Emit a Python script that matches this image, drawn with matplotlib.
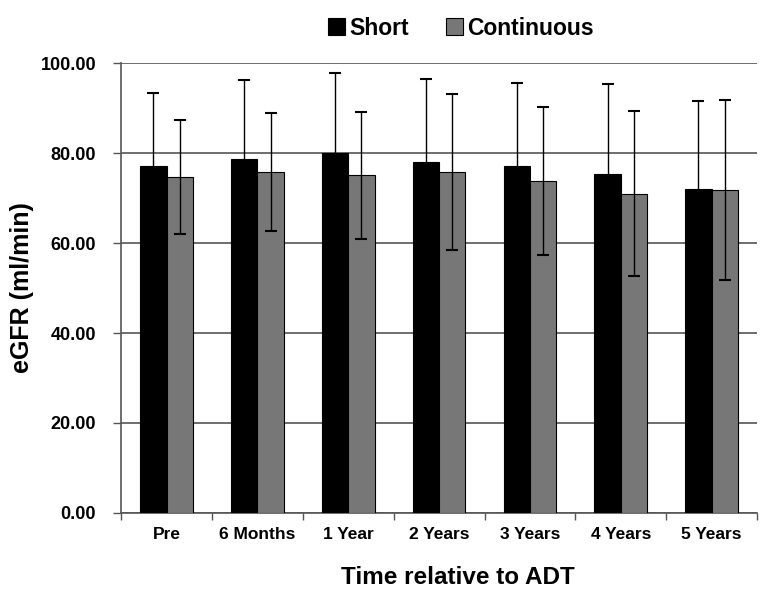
import matplotlib
matplotlib.use("Agg")
import matplotlib.pyplot as plt
import numpy as np
from matplotlib.ticker import FixedLocator, FormatStrFormatter

plt.rcParams['font.family'] = ['Liberation Sans', 'DejaVu Sans']

categories = ["Pre", "6 Months", "1 Year", "2 Years", "3 Years", "4 Years", "5 Years"]
short_mean = [77.1, 78.8, 80.1, 78.1, 77.2, 75.4, 72.1]
short_sd = [16.2, 17.4, 17.8, 18.4, 18.4, 19.9, 19.4]
cont_mean = [74.7, 75.8, 75.1, 75.8, 73.8, 71.0, 71.8]
cont_sd = [12.6, 13.1, 14.1, 17.3, 16.4, 18.4, 20.0]
yticks = [0, 20, 40, 60, 80, 100]

fig = plt.figure(figsize=(7.67, 6.02), dpi=100)
ax = fig.add_axes([0.158, 0.148, 0.829, 0.747])

x = np.arange(len(categories))
w = 0.29
ax.bar(x - w/2, short_mean, w, color='black', edgecolor='black', linewidth=0.8,
       yerr=short_sd, error_kw=dict(ecolor='black', elinewidth=1, capsize=4, capthick=1.5),
       label='Short', zorder=3)
ax.bar(x + w/2, cont_mean, w, color='#777777', edgecolor='black', linewidth=0.8,
       yerr=cont_sd, error_kw=dict(ecolor='black', elinewidth=1, capsize=4, capthick=1.5),
       label='Continuous', zorder=3)

ax.set_xlim(-0.5, len(categories) - 0.5)
ax.set_ylim(0, 100)
ax.set_yticks(yticks)
ax.yaxis.set_major_formatter(FormatStrFormatter('%.2f'))
ax.yaxis.grid(True, color='#555555', linewidth=1.2, zorder=0)
ax.set_axisbelow(True)

ax.set_xticks(x)
ax.set_xticklabels(categories, fontsize=12.5, fontweight='bold')
ax.xaxis.set_minor_locator(FixedLocator(np.arange(-0.5, len(categories), 1.0)))
ax.tick_params(axis='x', which='major', length=0, pad=10)
ax.tick_params(axis='x', which='minor', length=5, width=1, color='#555555')
ax.tick_params(axis='y', length=6, width=1, color='#555555', labelsize=13, pad=12)
for lab in ax.get_yticklabels():
    lab.set_fontweight('bold')

for s in ['top', 'right']:
    ax.spines[s].set_visible(False)
ax.spines['left'].set_color('#555555')
ax.spines['bottom'].set_color('#555555')
ax.spines['left'].set_linewidth(1.2)
ax.spines['bottom'].set_linewidth(1.2)

ax.set_ylabel('eGFR (ml/min)', fontsize=18, fontweight='bold', labelpad=5)
ax.set_xlabel('Time relative to ADT', fontsize=17.5, fontweight='bold')
ax.xaxis.set_label_coords(0.53, -0.118)

fig.legend(loc='center', bbox_to_anchor=(0.601, 0.953), ncol=2, frameon=False,
           prop=dict(size=16.5, weight='bold'), handlelength=0.75, handleheight=0.75,
           handletextpad=0.2, columnspacing=1.6)

fig.savefig('out.png', dpi=100)
